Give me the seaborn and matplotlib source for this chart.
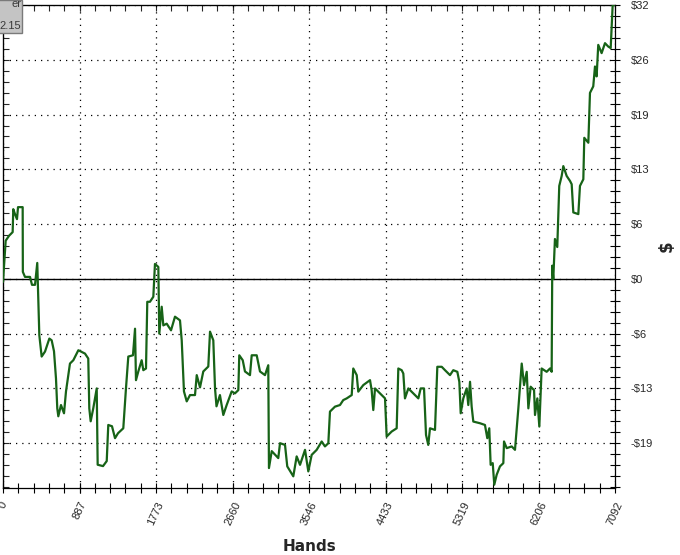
import numpy as np
import pandas as pd
import matplotlib
matplotlib.use("Agg")
import matplotlib.pyplot as plt
from matplotlib.patches import Rectangle
from matplotlib.ticker import FixedLocator, MultipleLocator
import seaborn as sns

# ---- data ----
hands = [0, 31, 70, 112, 119, 139, 162, 174, 228, 230, 255, 313, 336, 371, 397, 421, 448, 487,
         537, 564, 591, 614, 629, 641, 672, 707, 730, 776, 815, 873, 950, 988, 1000, 1016, 1046,
         1086, 1097, 1159, 1202, 1220, 1263, 1298, 1333, 1394, 1425, 1452, 1506, 1530, 1541, 1568,
         1607, 1626, 1657, 1672, 1703, 1742, 1761, 1800, 1811, 1839, 1858, 1897, 1947, 1993, 2051,
         2071, 2097, 2129, 2167, 2225, 2245, 2283, 2321, 2379, 2399, 2437, 2457, 2474, 2514, 2553,
         2592, 2650, 2688, 2727, 2738, 2778, 2804, 2862, 2882, 2940, 2978, 3036, 3074, 3082, 3114,
         3190, 3210, 3268, 3294, 3364, 3403, 3442, 3500, 3538, 3577, 3635, 3693, 3731, 3770, 3789,
         3847, 3905, 3943, 3983, 4041, 4059, 4099, 4117, 4175, 4253, 4272, 4291, 4311, 4369, 4427,
         4446, 4504, 4562, 4581, 4620, 4639, 4658, 4697, 4755, 4813, 4840, 4879, 4902, 4928, 4948,
         5006, 5033, 5084, 5122, 5180, 5218, 5265, 5288, 5304, 5334, 5373, 5392, 5412, 5431, 5450,
         5528, 5585, 5612, 5635, 5651, 5675, 5693, 5721, 5759, 5798, 5806, 5837, 5895, 5933, 5972,
         6011, 6038, 6069, 6088, 6115, 6154, 6165, 6192, 6215, 6242, 6300, 6339, 6358, 6365, 6377,
         6396, 6423, 6446, 6474, 6493, 6532, 6571, 6590, 6609, 6667, 6686, 6725, 6736, 6783, 6802,
         6840, 6860, 6879, 6898, 6937, 6976, 7014, 7042, 7065, 7092]
winnings = [-0.35, 4.48, 5.06, 5.49, 8.18, 7.60, 7.01, 8.42, 8.42, 0.82, 0.23, 0.23, -0.70, -0.70,
            1.87, -6.63, -9.12, -8.53, -7.01, -7.21, -8.50, -11.69, -15.20, -16.13, -14.81, -15.78,
            -13.21, -9.94, -9.55, -8.38, -8.77, -9.35, -15.20, -16.72, -15.20, -12.86, -21.82, -21.98,
            -21.39, -17.15, -17.30, -18.70, -18.12, -17.54, -12.86, -9.12, -8.97, -5.85, -11.89,
            -10.87, -9.55, -10.72, -10.52, -2.69, -2.69, -2.10, 1.75, 1.40, -6.43, -3.27, -5.46,
            -5.26, -6.04, -4.44, -4.87, -7.21, -13.21, -14.38, -13.64, -13.64, -11.30, -12.74,
            -10.87, -10.29, -6.20, -7.21, -12.86, -14.96, -13.64, -15.98, -14.81, -13.21, -13.44,
            -13.06, -8.97, -9.55, -10.87, -11.30, -8.97, -8.97, -10.87, -11.30, -10.14, -22.21,
            -20.22, -21.04, -19.29, -19.49, -22.01, -23.18, -20.84, -21.83, -20.07, -22.60, -20.66,
            -20.07, -19.09, -19.67, -19.29, -15.58, -15.00, -14.81, -14.23, -14.03, -13.64, -10.52,
            -11.30, -13.24, -12.47, -11.89, -13.06, -15.40, -12.86, -13.44, -14.03, -18.51, -17.92,
            -17.54, -10.52, -10.72, -11.11, -14.03, -12.86, -13.44, -14.03, -12.86, -12.86, -18.32,
            -19.49, -17.54, -17.73, -10.32, -10.32, -10.72, -11.30, -10.72, -10.91, -12.08, -15.78,
            -14.03, -12.86, -14.81, -12.08, -15.00, -16.75, -16.95, -17.15, -18.70, -17.54, -21.83,
            -21.63, -24.16, -22.99, -22.01, -21.63, -19.09, -19.87, -19.67, -20.07, -15.20, -9.94,
            -12.47, -10.91, -15.20, -12.66, -13.06, -15.98, -14.03, -17.34, -10.52, -10.91, -10.52,
            -10.91, 1.55, 0.00, 4.68, 3.74, 10.91, 12.08, 13.24, 12.08, 11.49, 11.11, 7.80, 7.60,
            10.91, 11.69, 16.56, 15.98, 21.83, 22.60, 24.93, 23.77, 27.47, 26.50, 27.67, 27.27,
            27.09, 32.15, 32.15]

x_ticks = [0, 887, 1773, 2660, 3546, 4433, 5319, 6206, 7092]
x_tick_labels = ["0", "887", "1773", "2660", "3546", "4433", "5319", "6206", "7092"]
y_ticks = [-19.29, -12.86, -6.43, 0.0, 6.43, 12.86, 19.29, 25.72, 32.15]
y_tick_labels = ["-$19", "-$13", "-$6", "$0", "$6", "$13", "$19", "$26", "$32"]
legend_lines = ["er", "2.15"]

df = pd.DataFrame({"Hands": hands, "Winnings": winnings})

# ---- style ----
sns.set_style("white")
plt.rcParams["font.family"] = ["Liberation Sans", "DejaVu Sans"]

W, H = 680, 555
fig = plt.figure(figsize=(W / 100, H / 100), dpi=100)
ax = fig.add_axes([3 / W, 1 - 488 / H, 612 / W, 483 / H])

ax.axhline(0, color="black", lw=1.0, zorder=2)
sns.lineplot(data=df, x="Hands", y="Winnings", ax=ax, color="#176317", lw=1.6,
             estimator=None, sort=False, zorder=3)

ax.set_xlim(0, 7092)
ax.set_ylim(-24.55, 32.15)

ax.xaxis.set_major_locator(FixedLocator(x_ticks))
ax.set_xticklabels(x_tick_labels, rotation=65, fontsize=8)
ax.xaxis.set_minor_locator(MultipleLocator(7092 / 40))
ax.yaxis.tick_right()
ax.yaxis.set_label_position("right")
ax.yaxis.set_major_locator(FixedLocator(y_ticks))
ax.set_yticklabels(y_tick_labels, fontsize=8)
ax.yaxis.set_minor_locator(MultipleLocator(32.15 / 25))

ax.tick_params(axis="both", which="both", direction="inout", length=7, width=0.8,
               color="black", pad=5)
ax.tick_params(axis="y", which="both", left=False, right=True, pad=8)
ax.tick_params(axis="x", which="both", top=False, bottom=True)

for s in ax.spines.values():
    s.set_color("black")
    s.set_linewidth(0.9)

# inward ticks on left and top
secx = ax.secondary_xaxis("top")
secx.xaxis.set_major_locator(FixedLocator(x_ticks))
secx.xaxis.set_minor_locator(MultipleLocator(7092 / 40))
secx.tick_params(which="both", direction="in", length=4, width=0.8, labeltop=False)
secx.set_xticklabels([])
secy = ax.secondary_yaxis("left")
secy.yaxis.set_major_locator(FixedLocator(y_ticks))
secy.yaxis.set_minor_locator(MultipleLocator(32.15 / 25))
secy.tick_params(which="both", direction="in", length=4, width=0.8, labelleft=False)
secy.set_yticklabels([])

ax.grid(True, which="major", color="black", linestyle=(0, (1, 4)), linewidth=0.9)

ax.set_xlabel("Hands", fontsize=11, fontweight="bold", family="DejaVu Sans", labelpad=9)
ax.set_ylabel("$", fontsize=12, fontweight="bold", family="DejaVu Sans", labelpad=3)

# clipped legend box at top-left
fig.patches.append(Rectangle((-20 / W, 1 - 33 / H), 42 / W, 33 / H, transform=fig.transFigure,
                             facecolor="#c4c4c4", edgecolor="#7a7a7a", lw=1.0, zorder=10))
fig.text(21 / W, 1 - 4 / H, legend_lines[0], ha="right", va="center", fontsize=8,
         color="#3a3a3a", zorder=11)
fig.text(21 / W, 1 - 26 / H, legend_lines[1], ha="right", va="center", fontsize=8,
         color="#3a3a3a", zorder=11)

fig.savefig("out.png", dpi=100)
